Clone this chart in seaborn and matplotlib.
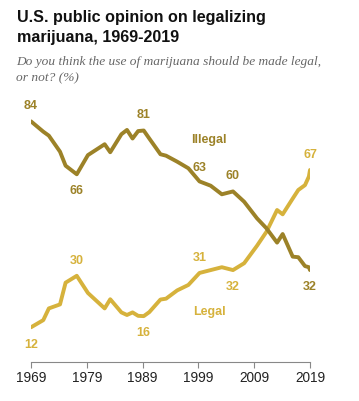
import pandas as pd
import numpy as np
import seaborn as sns
import matplotlib.pyplot as plt

# survey points (positions in fractional years)
years = [1969, 1971.2, 1972.2, 1974.2, 1975.2, 1977.2, 1979.2, 1982.2, 1983.2,
         1985.2, 1986.2, 1987.2, 1988.2, 1989.2, 1990.2, 1992.2, 1993.2,
         1995.2, 1997.2, 1999.2, 2001.2, 2003.2, 2005.2, 2007.2, 2009.5,
         2011.2, 2013.1, 2014.1, 2015.9, 2016.9, 2018.1, 2018.8, 2019]
legal = [12, 14.5, 18.6, 20, 27.6, 30, 24, 18.6, 21.8,
         17.2, 16.3, 17.2, 16, 15.9, 17.3, 21.7, 22,
         24.9, 26.8, 31, 32, 33, 32, 34.4, 40.5,
         45.4, 53, 51.5, 57, 60, 61.7, 64.7, 67]
illegal = [84, 80.4, 79, 73.4, 68.5, 65.5, 72.2, 76, 73.2,
           79.5, 81, 78, 80.6, 80.8, 78, 72.5, 72,
           69.9, 67.6, 63, 61.5, 58.5, 59.5, 55.9, 50.1,
           46.6, 41.6, 44.6, 36.7, 36.5, 33.4, 33, 32]
tick_years = [1969, 1979, 1989, 1999, 2009, 2019]

df = pd.DataFrame({'year': years * 2,
                   'pct': legal + illegal,
                   'view': ['Legal'] * len(years) + ['Illegal'] * len(years)})

c_ill = '#9c8228'
c_leg = '#d6b23c'

sns.set_style('white')
plt.rcParams['font.family'] = ['Liberation Sans', 'DejaVu Sans']

fig = plt.figure(figsize=(3.59, 4.01), dpi=100)
ax = fig.add_axes([31 / 359, 39.4 / 401, 279 / 359, 257.4 / 401])

sns.lineplot(data=df, x='year', y='pct', hue='view', ax=ax,
             palette={'Legal': c_leg, 'Illegal': c_ill},
             linewidth=2.8, legend=False)

ax.set_xlim(1969, 2019)
ax.set_ylim(0, 90)
ax.set_xticks(tick_years)
ax.set_xticklabels([str(t) for t in tick_years], fontsize=9.8, color='#222222')
ax.set_yticks([])
ax.set_xlabel('')
ax.set_ylabel('')
for s in ['top', 'right', 'left']:
    ax.spines[s].set_visible(False)
ax.spines['bottom'].set_color('#888888')
ax.spines['bottom'].set_linewidth(0.8)
ax.tick_params(axis='x', length=4, width=0.8, color='#888888', pad=3,
               bottom=True, direction='out')


def note(i, vals, text, dx, dy, color):
    ax.annotate(text, (years[i], vals[i]), xytext=(dx, dy),
                textcoords='offset points', ha='center', va='center',
                fontsize=9, fontweight='bold', color=color,
                annotation_clip=False)


# Illegal labels
note(0, illegal, '84', 0, 11, c_ill)
note(5, illegal, '66', 0, -12, c_ill)
note(13, illegal, '81', 0, 11, c_ill)
note(19, illegal, '63', 0, 10, c_ill)
note(22, illegal, '60', 0, 11, c_ill)
note(32, illegal, '32', 0, -12, c_ill)
note(19, illegal, 'Illegal', 7, 30, c_ill)

# Legal labels
note(0, legal, '12', 0, -13, c_leg)
note(5, legal, '30', 0, 11, c_leg)
note(13, legal, '16', 0, -12, c_leg)
note(19, legal, '31', 0, 11, c_leg)
note(22, legal, '32', 0, -12, c_leg)
note(32, legal, '67', 0, 11, c_leg)
note(19, legal, 'Legal', 7, -28, c_leg)

fig.text(17 / 359, 1 - 10 / 401, 'U.S. public opinion on legalizing\nmarijuana, 1969-2019',
         ha='left', va='top', fontsize=11.6, fontweight='bold', color='#111111',
         linespacing=1.45)
fig.text(16 / 359, 1 - 56 / 401,
         'Do you think the use of marijuana should be made legal,\nor not? (%)',
         ha='left', va='top', fontsize=9.6, style='italic', color='#666666',
         family=['Liberation Serif', 'DejaVu Serif'], linespacing=1.5)

fig.savefig('out.png', dpi=100)
